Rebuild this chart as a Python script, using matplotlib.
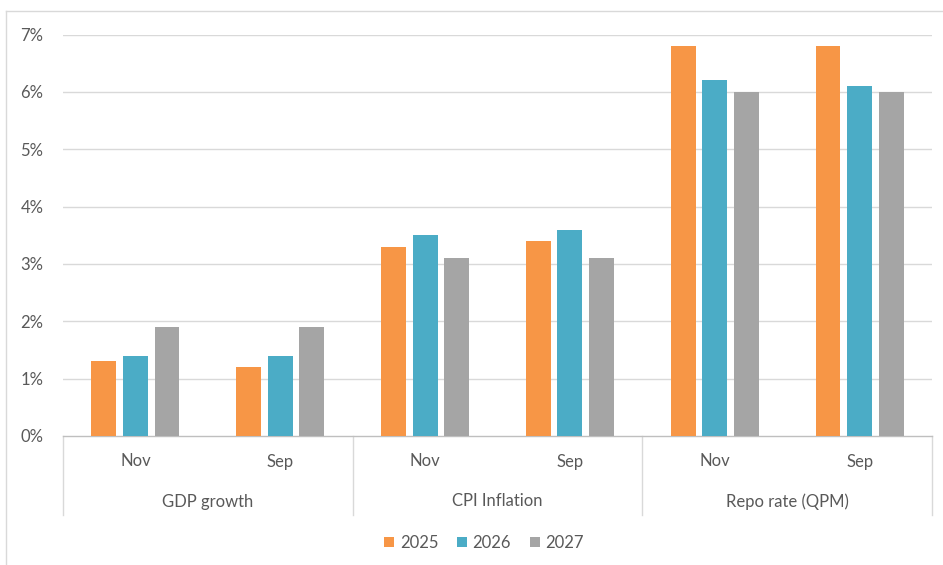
import matplotlib
matplotlib.use("Agg")
import matplotlib.pyplot as plt
from matplotlib.patches import Patch
from matplotlib.lines import Line2D
import matplotlib.transforms as mtransforms

groups = ["GDP growth", "CPI Inflation", "Repo rate (QPM)"]
subcats = ["Nov", "Sep", "Nov", "Sep", "Nov", "Sep"]
series_names = ["2025", "2026", "2027"]
v2025 = [1.3, 1.2, 3.3, 3.4, 6.8, 6.8]
v2026 = [1.4, 1.4, 3.5, 3.6, 6.2, 6.1]
v2027 = [1.9, 1.9, 3.1, 3.1, 6.0, 6.0]
yticks = [0, 1, 2, 3, 4, 5, 6, 7]
colors = ["#F79646", "#4BACC6", "#A5A5A5"]

plt.rcParams['font.family'] = ['Lato', 'DejaVu Sans']
text_color = "#595959"

W, H = 943, 565
fig = plt.figure(figsize=(W / 100, H / 100), dpi=100)
left, right, top, bottom = 63, 932, 34.5, 436
ax = fig.add_axes([left / W, 1 - bottom / H, (right - left) / W, (bottom - top) / H])

x = list(range(len(subcats)))
width = 0.172
step = 0.218
for i, (vals, c, name) in enumerate(zip([v2025, v2026, v2027], colors, series_names)):
    ax.bar([xi + (i - 1) * step for xi in x], vals, width=width, color=c, label=name, zorder=3)

ax.set_xlim(-0.5, len(subcats) - 0.5)
ax.set_ylim(0, 7)
ax.set_yticks(yticks)
ax.set_yticklabels([f"{t}%" for t in yticks], fontsize=12, color=text_color)
ax.tick_params(axis='y', length=0, pad=14)
ax.set_xticks([])
for t in yticks[1:]:
    ax.axhline(t, color="#D9D9D9", lw=1.0, zorder=1)
for s in ["top", "right", "left"]:
    ax.spines[s].set_visible(False)
ax.spines["bottom"].set_color("#BFBFBF")
ax.spines["bottom"].set_linewidth(1.0)

ah = bottom - top
trans = mtransforms.blended_transform_factory(ax.transData, ax.transAxes)
sep_bottom = -(515 - bottom) / ah
for xs in [-0.5, 1.5, 3.5, 5.5]:
    ax.plot([xs, xs], [0, sep_bottom], transform=trans, color="#D9D9D9", lw=1.0, clip_on=False)

sub_y = -(461.5 - bottom) / ah
grp_y = -(501.5 - bottom) / ah
for xi, lab in zip(x, subcats):
    ax.text(xi, sub_y, lab, transform=trans, ha="center", va="center", fontsize=12, color=text_color)
for gi, g in enumerate(groups):
    ax.text(2 * gi + 0.5, grp_y, g, transform=trans, ha="center", va="center", fontsize=12, color=text_color)

handles = [Patch(facecolor=c, edgecolor="none") for c in colors]
fig.legend(handles, series_names, loc="center", bbox_to_anchor=(484 / W, 1 - 543 / H), ncol=3,
           frameon=False, fontsize=12, labelcolor=text_color, handlelength=0.6, handleheight=0.6,
           handletextpad=0.35, columnspacing=1.1)

# outer border (left and top)
fig.add_artist(Line2D([6 / W, 6 / W], [0, 1 - 11 / H], transform=fig.transFigure, color="#D9D9D9", lw=1.0))
fig.add_artist(Line2D([6 / W, 1], [1 - 11 / H, 1 - 11 / H], transform=fig.transFigure, color="#D9D9D9", lw=1.0))

fig.savefig("out.png", dpi=100)
